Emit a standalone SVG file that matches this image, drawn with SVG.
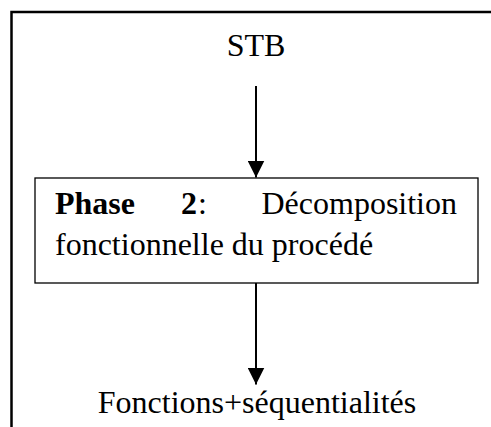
<svg xmlns="http://www.w3.org/2000/svg" width="491" height="427" viewBox="0 0 491 427">
<style>
  text { font-family: "Liberation Serif", "Times New Roman", serif; font-size: 32px; fill: #000; }
  .b { font-weight: bold; }
  .conn { stroke: #000; stroke-width: 2; fill: none; }
</style>
<defs>
  <marker id="ah" markerUnits="userSpaceOnUse" markerWidth="18" markerHeight="17" refX="17" refY="8.5" orient="auto">
    <path d="M0,0 L17,8.5 L0,17 Z" fill="#000"/>
  </marker>
</defs>
<rect width="491" height="427" fill="#fff"/>
<g id="frame">
  <path d="M11.5,427 V12 H491" fill="none" stroke="#000" stroke-width="2.5"/>
</g>
<g id="stb">
  <text x="256" y="56" text-anchor="middle">STB</text>
</g>
<g id="phase2">
  <rect x="35" y="178" width="443" height="105" fill="#fff" stroke="#000" stroke-width="1.3"/>
  <text x="55" y="214" class="b">Phase</text>
  <text x="181" y="214" class="b">2</text>
  <text x="198" y="214"> :</text>
  <text x="457" y="214" text-anchor="end">Décomposition</text>
  <text x="55" y="255">fonctionnelle du procédé</text>
</g>
<g id="result">
  <text x="257" y="413" text-anchor="middle">Fonctions+séquentialités</text>
</g>
<g id="connectors">
  <line class="conn" x1="256" y1="86" x2="256" y2="177.5" marker-end="url(#ah)"/>
  <line class="conn" x1="256" y1="283" x2="256" y2="384.5" marker-end="url(#ah)"/>
</g>
</svg>
